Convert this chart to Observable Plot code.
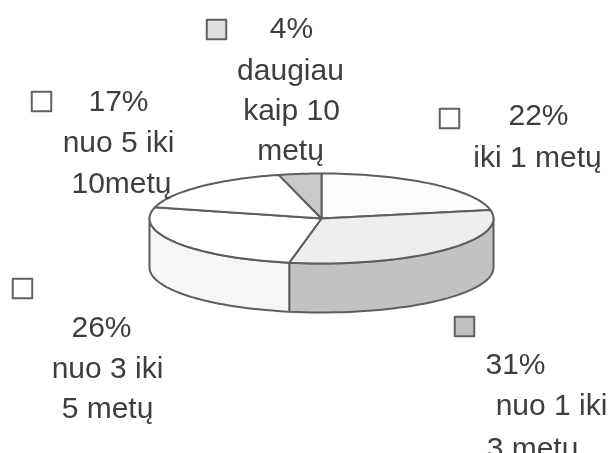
<!DOCTYPE html>
<html><head><meta charset="utf-8">
<script src="https://cdn.jsdelivr.net/npm/d3@7"></script>
<script src="https://cdn.jsdelivr.net/npm/@observablehq/plot@0.6"></script>
<style>html,body{margin:0;padding:0;background:#fff;overflow:hidden} svg{display:block;filter:blur(0.55px)}</style>
</head><body><div id="chart"></div>
<script>
// Data: clockwise from twelve o'clock
const categories = ["iki 1 metų", "nuo 1 iki 3 metų", "nuo 3 iki 5 metų", "nuo 5 iki 10metų", "daugiau kaip 10 metų"];
const shares = [22, 31, 26, 17, 4];
const topColors = ["#fbfbf9", "#eeeeec", "#ffffff", "#ffffff", "#c9c9c7"];
const sideColors = ["#efefed", "#c2c2c0", "#f6f6f4", "#f7f7f5", "#cfcfcd"];
const swatchColors = ["#ffffff", "#c0c0be", "#ffffff", "#ffffff", "#dededc"];

// Text lines and their layout
const textLines = ["22%", "iki 1 metų", "31%", "nuo 1 iki", "3 metų", "26%", "nuo 3 iki", "5 metų", "17%", "nuo 5 iki", "10metų", "4%", "daugiau", "kaip 10", "metų"];
const textX = [538, 537, 515, 551, 532, 101, 107, 107, 118, 118, 121, 291, 290, 291, 290];
const textY = [115, 157, 364, 405, 448, 327, 368, 408, 101, 142, 183, 28, 70, 110, 150];
const swatchX = [449, 464, 22, 41, 216];
const swatchY = [118, 326, 288, 101, 29];

const cx = 321, cy = 218, rx = 172, ry = 45, depth = 49;
const rad = (a) => a * Math.PI / 180;
const pt = (a, dy = 0) => ({x: cx + rx * Math.sin(rad(a)), y: cy - ry * Math.cos(rad(a)) + dy});
const arc = (a0, a1, dy = 0) => d3.range(0, 41).map((i) => pt(a0 + (a1 - a0) * i / 40, dy));

let acc = 0;
const total = d3.sum(shares);
const slices = shares.map((v, i) => {
  const a0 = acc / total * 360; acc += v;
  return {a0, a1: acc / total * 360, top: topColors[i], side: sideColors[i]};
});

const edge = {stroke: "#5e5e5c", strokeWidth: 2, strokeLinejoin: "round"};
const marks = [];
for (const s of slices) {
  const a0 = Math.max(s.a0, 90), a1 = Math.min(s.a1, 270);
  if (a1 > a0) {
    const upper = arc(a0, a1), lower = arc(a1, a0, depth);
    marks.push(Plot.line([...upper, ...lower, upper[0]], {x: "x", y: "y", fill: s.side, ...edge}));
  }
}
for (const s of slices) {
  const c = {x: cx, y: cy};
  marks.push(Plot.line([c, ...arc(s.a0, s.a1), c], {x: "x", y: "y", fill: s.top, ...edge}));
}
marks.push(Plot.dot(swatchX.map((x, i) => ({x, y: swatchY[i], c: swatchColors[i]})), {
  x: "x", y: "y", r: 11, symbol: "square", fill: "c", stroke: "#606060", strokeWidth: 2, strokeLinejoin: "round"
}));
marks.push(Plot.text(textLines.map((t, i) => ({t, x: textX[i], y: textY[i]})), {
  x: "x", y: "y", text: "t", fontSize: 30, fill: "#3e3e3e", fontFamily: "Liberation Sans, Arial, sans-serif", lineAnchor: "middle"
}));

const chart = Plot.plot({
  width: 611, height: 453, margin: 0,
  style: {background: "#fff"},
  x: {domain: [0, 611], range: [0, 611], axis: null},
  y: {domain: [0, 453], range: [0, 453], axis: null},
  marks
});
document.getElementById("chart").append(chart);
</script></body></html>
